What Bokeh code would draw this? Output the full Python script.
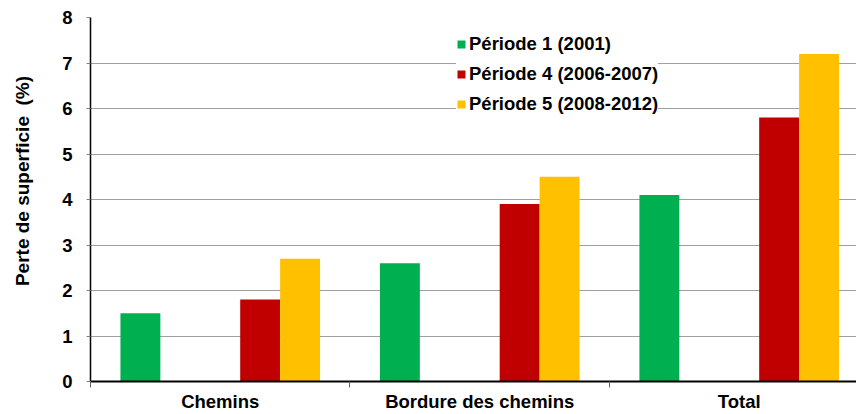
from bokeh.plotting import figure
from bokeh.models import Range1d, FixedTicker
from bokeh.embed import file_html
from bokeh.resources import INLINE

categories = ["Chemins", "Bordure des chemins", "Total"]
periods = [1, 4, 5]
period_labels = ["Période 1 (2001)", "Période 4 (2006-2007)", "Période 5 (2008-2012)"]
periode1 = [1.5, 2.6, 4.1]
periode4 = [1.8, 3.9, 5.8]
periode5 = [2.7, 4.5, 7.2]
y_ticks = [0, 1, 2, 3, 4, 5, 6, 7, 8]
y_title = "Perte de superficie \u00a0(%)"

series = [periode1, periode4, periode5]
colors = ["#00B050", "#C00000", "#FFC000"]

n_slots = 5
slot_w = 1.0 / (n_slots + 1.5)
pad = 0.75 * slot_w

FONT = "Liberation Sans"
FS = "18.5px"

p = figure(width=856, height=414, output_backend="svg", toolbar_location=None,
           x_range=Range1d(0, 2.952), y_range=Range1d(0, 8),
           min_border_left=90, min_border_right=0, min_border_top=17, min_border_bottom=32)
p.outline_line_color = None

for per, vals, col, lab in zip(periods, series, colors, period_labels):
    xs = [i + pad + (per - 0.5) * slot_w for i in range(len(categories))]
    p.vbar(x=xs, top=vals, width=slot_w, bottom=0, fill_color=col, line_color=None,
           legend_label=lab)

# y axis
p.yaxis.ticker = FixedTicker(ticks=y_ticks)
p.yaxis.major_tick_out = 4
p.yaxis.major_tick_in = 0
p.yaxis.minor_tick_line_color = None
p.yaxis.axis_line_color = "black"
p.yaxis.axis_line_width = 1.5
p.yaxis.major_tick_line_color = "#808080"
p.yaxis.major_label_text_font = FONT
p.yaxis.major_label_text_font_style = "bold"
p.yaxis.major_label_text_font_size = FS
p.yaxis.major_label_text_color = "black"
p.yaxis.major_label_standoff = 14
# leading no-break spaces lift the title slightly above the frame centre, as in the original
p.yaxis.axis_label = "\u00a0" * 7 + y_title
p.yaxis.axis_label_text_font = FONT
p.yaxis.axis_label_text_font_style = "bold"
p.yaxis.axis_label_text_font_size = "19px"
p.yaxis.axis_label_text_color = "black"
p.yaxis.axis_label_standoff = 26

# x axis
centers = [i + 0.5 for i in range(len(categories))]
p.xaxis.ticker = FixedTicker(ticks=centers, minor_ticks=list(range(len(categories) + 1)))
p.xaxis.major_label_overrides = {c: name for c, name in zip(centers, categories)}
p.xaxis.major_tick_out = 0
p.xaxis.major_tick_in = 0
p.xaxis.minor_tick_out = 6
p.xaxis.minor_tick_in = 0
p.xaxis.minor_tick_line_color = "#606060"
p.xaxis.axis_line_color = "black"
p.xaxis.axis_line_width = 2
p.xaxis.major_label_text_font = FONT
p.xaxis.major_label_text_font_style = "bold"
p.xaxis.major_label_text_font_size = FS
p.xaxis.major_label_text_color = "black"
p.xaxis.major_label_standoff = 3

p.xgrid.grid_line_color = None
p.ygrid.grid_line_color = "#A0A0A0"
p.ygrid.grid_line_width = 1

lg = p.legend[0]
lg.location = (366, 266)
lg.margin = 0
lg.padding = 10
lg.spacing = 8
lg.glyph_width = 10
lg.glyph_height = 10
lg.label_height = 20
lg.label_standoff = 3
lg.label_text_font = FONT
lg.label_text_font_style = "bold"
lg.label_text_font_size = FS
lg.label_text_color = "black"
lg.border_line_color = None
lg.background_fill_color = "white"
lg.background_fill_alpha = 1.0

open("out.html", "w").write(file_html(p, INLINE))
